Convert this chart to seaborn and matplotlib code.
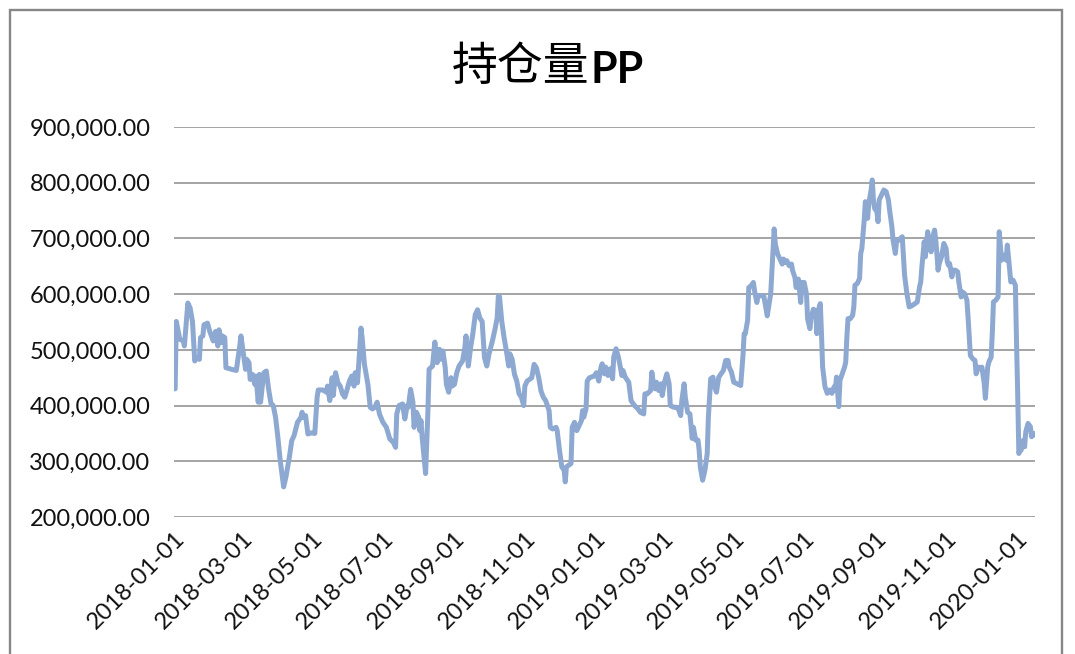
#%%
import numpy as np
import pandas as pd
import seaborn as sns
import matplotlib.pyplot as plt
import matplotlib.dates as mdates
from matplotlib.ticker import FuncFormatter
from matplotlib.patches import Rectangle

#%% data (days after 2018-01-01, open interest in thousands)
start = '2018-01-01'
title_cn = '持仓量'
title_en = 'PP'

day_offset = [
    1, 2, 5, 8, 9, 12, 14, 16, 18, 19, 22, 23, 25, 26, 29, 31, 34, 36, 38, 39,
    41, 42, 44, 45, 50, 54, 57, 58, 60, 62, 63, 65, 66, 68, 70, 71, 73, 74, 75, 77,
    78, 80, 82, 84, 86, 88, 90, 92, 95, 97, 100, 102, 104, 107, 110, 111, 112, 114, 116, 119,
    122, 124, 125, 129, 132, 133, 135, 137, 138, 140, 142, 144, 146, 148, 150, 152, 154, 156, 157, 159,
    161, 162, 163, 165, 168, 170, 172, 174, 176, 178, 181, 184,
    187, 190, 192, 193, 195, 198, 200, 202, 203, 205, 207, 208, 210, 212, 213, 214, 215, 218, 220, 221,
    224, 226, 228, 230, 231, 233, 235, 236, 238, 240, 241, 243, 245, 247, 250, 252, 253, 255, 257, 259,
    261, 263, 265, 267, 269, 271, 273, 276, 278, 280, 281, 282, 284, 286, 288, 290, 291, 293, 295, 297,
    299, 301, 303, 304, 306, 308, 310, 312, 314, 316, 318, 320, 322, 325, 326, 328, 331, 332, 334, 336,
    338, 339, 340, 342, 344, 345, 347, 349, 351, 353, 354, 355, 357, 358, 360, 364, 366, 368,
    370, 371, 373, 374, 376, 378, 380, 381, 383, 385, 387, 388, 389, 391, 394, 396, 399, 402, 404, 407,
    408, 410, 413, 414, 415, 417, 418, 420, 422, 423, 425, 427, 429, 430, 433, 435, 437, 439, 440, 442,
    443, 445, 447, 449, 450, 452, 454, 455, 456, 458, 460, 462, 463, 464, 465, 467, 468, 470, 472, 474,
    476, 478, 480, 481, 483, 485, 488, 491, 493, 494, 495, 497, 498, 500, 502, 503, 505, 506, 508, 510,
    511, 513, 514, 516, 517, 518, 519, 520, 521, 523, 525, 527, 528, 530, 531, 533, 535, 536, 538, 539,
    541, 542, 543, 544, 546, 548, 549, 551, 552, 554, 555,
    556, 557, 559, 560, 561, 562, 564, 566, 568, 570, 572, 573, 574, 576, 577, 579, 581, 582, 583, 584,
    586, 588, 589, 590, 592, 594, 595, 596, 598, 599, 601, 602, 604, 605, 606, 607, 609, 610, 611, 613,
    615, 617, 619, 620, 622, 623, 625, 626, 628, 631, 632, 633, 635, 637, 640, 642, 644, 646, 647, 648,
    650, 651, 653, 654, 656, 657, 659, 660, 661, 662, 663, 665, 667, 669, 670, 671, 672, 674, 675, 677,
    679, 680, 682, 683, 685, 687, 688, 689, 690, 692, 694, 695, 697, 699, 700, 702, 703, 705, 706, 708,
    709, 710, 712, 714, 715, 717, 719, 721, 722, 723, 725, 727, 729, 730, 731, 732, 733, 734, 736, 737,
    738, 740, 742, 743, 745, 746,
]

oi_k = [
    430, 551, 519, 516, 507, 584, 575, 551, 480, 486, 483, 522, 525, 545, 548, 533, 516, 533, 507, 536,
    513, 525, 522, 468, 465, 463, 507, 525, 495, 465, 483, 477, 447, 456, 438, 453, 406, 456, 406, 444,
    459, 462, 429, 404, 400, 379, 343, 302, 254, 272, 308, 337, 346, 370, 379, 388, 379, 382, 349, 351,
    350, 415, 428, 428, 424, 435, 409, 450, 418, 459, 441, 435, 421, 415, 429, 444, 453, 435, 459, 441,
    504, 539, 522, 474, 438, 397, 394, 397, 406, 385, 370, 361,
    340, 334, 325, 385, 400, 403, 376, 400, 397, 429, 406, 361, 388, 379, 355, 373, 343, 278, 390, 465,
    471, 514, 477, 501, 483, 498, 468, 438, 424, 450, 435, 438, 459, 471, 480, 504, 525, 471, 504, 530,
    563, 572, 557, 551, 486, 471, 493, 517, 536, 557, 596, 596, 551, 522, 498, 471, 493, 483, 456, 444,
    421, 415, 400, 435, 444, 447, 450, 474, 468, 450, 426, 415, 409, 391, 361, 358, 361, 355, 320, 290,
    284, 263, 290, 293, 296, 361, 370, 355, 364, 373, 391, 379, 394, 444, 450, 453, 459, 444,
    469, 475, 457, 469, 454, 466, 448, 487, 502, 487, 466, 454, 463, 451, 442, 409, 400, 394, 388, 385,
    421, 421, 427, 460, 445, 430, 442, 427, 439, 418, 442, 457, 439, 400, 397, 397, 394, 382, 409, 439,
    415, 388, 385, 341, 361, 338, 338, 320, 290, 266, 284, 314, 379, 415, 448, 451, 436, 424, 451, 457,
    463, 481, 481, 469, 460, 442, 439, 436, 490, 529, 529, 553, 612, 615, 621, 606, 585, 597, 597, 597,
    597, 573, 561, 588, 600, 639, 678, 717, 690, 672, 663, 654, 663, 657, 660, 651, 654, 642, 630, 612,
    627, 606, 585, 621, 621, 600, 555, 538, 558, 573, 561,
    571, 529, 577, 583, 529, 469, 434, 422, 428, 422, 434, 428, 451, 398, 445, 457, 469, 478, 523, 556,
    556, 562, 577, 616, 619, 628, 673, 682, 733, 766, 736, 763, 787, 805, 769, 754, 748, 730, 769, 778,
    787, 784, 769, 751, 721, 697, 673, 694, 697, 703, 667, 634, 601, 577, 580, 583, 586, 613, 622, 649,
    694, 667, 712, 697, 676, 700, 715, 697, 673, 643, 655, 667, 691, 682, 658, 652, 655, 631, 643, 643,
    640, 622, 595, 604, 601, 589, 559, 523, 490, 484, 481, 457, 469, 466, 469, 440, 413, 469, 478, 487,
    529, 586, 589, 595, 712, 661, 670, 661, 688, 667, 622, 625, 616, 514, 422, 314, 320, 320, 338, 326,
    353, 368, 362, 344, 350, 347,
]

y_ticks = np.arange(200000, 900001, 100000)

df = pd.DataFrame({
    'date': pd.Timestamp(start) + pd.to_timedelta(day_offset, unit='D'),
    'oi': np.array(oi_k) * 1000,
})

#%% setup plot
sns.set_style('white')
plt.rcParams['font.family'] = ['Lato', 'DejaVu Sans']

W, H = 1075, 654
fig = plt.figure(figsize=(W / 100, H / 100), dpi=100)
ax = fig.add_axes([174 / W, 1 - 517 / H, (1035 - 174) / W, (517 - 127) / H])

sns.lineplot(data=df, x='date', y='oi', ax=ax, color='#8DA9D2', linewidth=3.6)

ax.set_ylim(200000, 900000)
ax.set_yticks(y_ticks)
ax.yaxis.set_major_formatter(FuncFormatter(lambda v, p: f'{v:,.2f}'))
ax.set_xlim(pd.Timestamp(start), df['date'].max())
ax.xaxis.set_major_locator(mdates.MonthLocator(bymonth=[1, 3, 5, 7, 9, 11]))
ax.xaxis.set_major_formatter(mdates.DateFormatter('%Y-%m-%d'))

ax.grid(axis='y', color='#8c8c8c', lw=1.1)
ax.grid(axis='x', visible=False)
ax.set_axisbelow(True)
for s in ax.spines.values():
    s.set_visible(False)
ax.tick_params(length=0, labelsize=17, colors='#111111')
ax.tick_params(axis='y', pad=17)
ax.tick_params(axis='x', pad=8)
for lab in ax.get_xticklabels():
    lab.set_rotation(45)
    lab.set_ha('right')
    lab.set_rotation_mode('anchor')
ax.set_xlabel('')
ax.set_ylabel('')

# title: regular CJK part followed by bold latin part
fig.text(589 / W, 1 - 80 / H, title_cn, ha='right', va='baseline', fontsize=33,
         color='black', family=['Noto Sans CJK SC', 'DejaVu Sans'])
fig.text(590 / W, 1 - 83 / H, title_en, ha='left', va='baseline', fontsize=31,
         fontweight='bold', color='black', family=['Lato', 'DejaVu Sans'])

# chart frame
fig.patches.append(Rectangle((10 / W, -0.05), (1062 - 10) / W, 1.05 - 10 / H,
                             transform=fig.transFigure, fill=False,
                             edgecolor='#878787', lw=1.7))

plt.savefig('out.png', dpi=100)
